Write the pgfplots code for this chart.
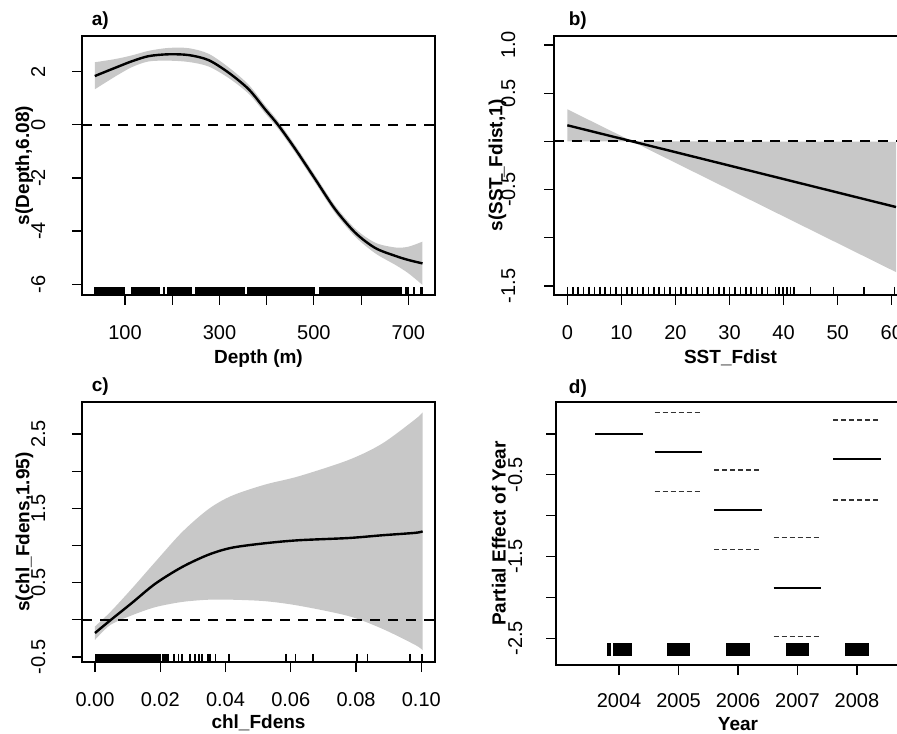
\documentclass[border=0pt]{standalone}
\usepackage{fontspec}
\setmainfont{Liberation Sans}
\usepackage{pgfplots}
\usepackage{pgfplotstable}
\pgfplotsset{compat=1.18}
\usepgfplotslibrary{fillbetween}
\definecolor{band}{RGB}{200,200,200}

% depth smooth: fit and 2se band
\pgfplotstableread{
x     fit    up     lo
36    1.84   2.36   1.34
79    2.15   2.48   1.82
115   2.40   2.62   2.18
150   2.59   2.79   2.39
192   2.66   2.90   2.42
235   2.63   2.89   2.37
277   2.44   2.68   2.20
320   1.96   2.16   1.76
362   1.34   1.51   1.17
397   0.58   0.73   0.43
425   -0.02  0.12   -0.16
461   -0.92  -0.78  -1.06
503   -2.05  -1.91  -2.19
545   -3.18  -3.04  -3.32
588   -4.07  -3.92  -4.22
630   -4.64  -4.44  -4.84
673   -4.94  -4.62  -5.28
700   -5.09  -4.59  -5.59
730   -5.22  -4.40  -6.03
}\depthtab

\pgfplotstableread{
x      fit     up      lo
0      0.167   0.333   0.001
12     0.000   0.000   0.000
60.8   -0.681  -0.004  -1.356
}\ssttab

\pgfplotstableread{
x       fit     up      lo
0.0000  -0.178  -0.09   -0.27
0.0047  -0.007  0.105   -0.07
0.0113  0.226   0.42    0.06
0.0185  0.486   0.78    0.17
0.0267  0.71    1.18    0.24
0.0348  0.876   1.49    0.27
0.0420  0.97    1.67    0.27
0.0522  1.03    1.82    0.25
0.0624  1.07    1.93    0.19
0.0777  1.10    2.15    0.05
0.0880  1.137   2.37    -0.12
0.0982  1.17    2.70    -0.34
0.1004  1.19    2.79    -0.41
}\chltab

\newcommand{\rugblock}[4]{\addplot[fill=black,draw=none,forget plot] coordinates {(#1,#3) (#2,#3) (#2,#4) (#1,#4)};}

\tikzset{panel tag/.style={font=\fontsize{9.5}{11}\selectfont\bfseries, anchor=base west}}

\pgfplotsset{
  rpanel/.style={
    scale only axis,
    axis line style={line width=0.6pt},
    every tick/.style={black, line width=0.6pt},
    tick align=outside,
    major tick length=5pt,
    xtick pos=bottom, ytick pos=left,
    clip mode=individual,
    tick label style={font=\fontsize{10}{11}\selectfont},
  },
  ylab/.style={every axis y label/.style={at={(axis description cs:#1,0.5)}, rotate=90, anchor=center,
    font=\fontsize{9.5}{11}\selectfont\bfseries}},
  xlab/.style={every axis x label/.style={at={(axis description cs:0.5,#1)}, anchor=base,
    font=\fontsize{9.5}{11}\selectfont\bfseries}},
  zeroline/.style={black, line width=1.1pt, dash pattern=on 5pt off 4pt},
  fitline/.style={black, line width=1.2pt},
  rug/.style={only marks, mark=|, mark size=2pt, mark options={line width=0.8pt}, black},
}

\begin{document}
\begin{tikzpicture}

% a) depth
\begin{axis}[rpanel, at={(41pt,219pt)}, anchor=south west,
  width=176.5pt, height=129.5pt,
  xmin=8.9, xmax=756.5, ymin=-6.41, ymax=3.35,
  xtick={100,200,...,700}, xticklabels={100,,300,,500,,700},
  ytick={-6,-4,-2,0,2}, yticklabels={-6,-4,-2,0,2},
  yticklabel style={xshift=-13.5pt, rotate=90, anchor=base},
  xticklabel style={anchor=base, yshift=-17.5pt},
  ylab=-0.164, xlab=-0.265,
  xlabel={Depth (m)}, ylabel={s(Depth,6.08)}]
\addplot[name path=aup, draw=none, smooth] table[x=x,y=up] {\depthtab};
\addplot[name path=alo, draw=none, smooth] table[x=x,y=lo] {\depthtab};
\addplot[band, draw=none] fill between[of=aup and alo];
\addplot[fitline, smooth] table[x=x,y=fit] {\depthtab};
\addplot[zeroline] coordinates {(8.9,0) (756.5,0)};
\rugblock{33.7}{100.6}{-6.41}{-6.11}
\rugblock{113.3}{174.8}{-6.41}{-6.11}
\rugblock{189}{241.9}{-6.41}{-6.11}
\rugblock{249}{354.8}{-6.41}{-6.11}
\rugblock{358.4}{503}{-6.41}{-6.11}
\rugblock{511.5}{686.7}{-6.41}{-6.11}
\rugblock{693.7}{700.9}{-6.41}{-6.11}
\rugblock{709.3}{714.9}{-6.41}{-6.11}
\addplot[rug] coordinates {(183,-6.26) (726,-6.26) (729,-6.26)};
\node[panel tag] at (rel axis cs:0.008,1.04) {a)};
\end{axis}

% b) SST_Fdist
\begin{axis}[rpanel, at={(277pt,219pt)}, anchor=south west,
  width=176.5pt, height=129.5pt,
  xmin=-2.46, xmax=62.82, ymin=-1.593, ymax=1.093,
  xtick={0,10,...,60}, xticklabels={0,10,20,30,40,50,60},
  ytick={-1.5,-1,-0.5,0,0.5,1}, yticklabels={-1.5,,-0.5,,0.5,1.0},
  yticklabel style={xshift=-14.5pt, rotate=90, anchor=base},
  xticklabel style={anchor=base, yshift=-17.5pt},
  ylab=-0.160, xlab=-0.265,
  xlabel={SST\_Fdist}, ylabel={s(SST\_Fdist,1)}]
\addplot[name path=bup, draw=none] table[x=x,y=up] {\ssttab};
\addplot[name path=blo, draw=none] table[x=x,y=lo] {\ssttab};
\addplot[band, draw=none] fill between[of=bup and blo];
\addplot[fitline] table[x=x,y=fit] {\ssttab};
\addplot[zeroline] coordinates {(-2.46,0) (62.82,0)};
\addplot[rug] coordinates {
 (0,-1.5515) (1,-1.5515) (2,-1.5515) (3,-1.5515) (4,-1.5515) (5,-1.5515)
 (6,-1.5515) (7,-1.5515) (8,-1.5515) (9,-1.5515) (10,-1.5515) (11,-1.5515)
 (12,-1.5515) (13,-1.5515) (14,-1.5515) (15,-1.5515) (16,-1.5515) (17,-1.5515)
 (18,-1.5515) (19,-1.5515) (20,-1.5515) (21,-1.5515) (22,-1.5515) (23,-1.5515)
 (24,-1.5515) (25,-1.5515) (26,-1.5515) (27,-1.5515) (28,-1.5515) (29,-1.5515)
 (30,-1.5515) (31,-1.5515) (32,-1.5515) (33,-1.5515) (34,-1.5515) (35,-1.5515)
 (36,-1.5515) (37,-1.5515) (38.5,-1.5515) (39.1,-1.5515) (39.9,-1.5515)
 (40.6,-1.5515) (41.3,-1.5515) (41.9,-1.5515) (45.0,-1.5515) (49.2,-1.5515)
 (54.9,-1.5515) (60.5,-1.5515)};
\node[panel tag] at (rel axis cs:0.022,1.04) {b)};
\end{axis}

% c) chl_Fdens
\begin{axis}[rpanel, at={(41pt,35.5pt)}, anchor=south west,
  width=176.5pt, height=130pt,
  xmin=-0.00398, xmax=0.1042, ymin=-0.568, ymax=2.93,
  xtick={0,0.02,0.04,0.06,0.08,0.1}, xticklabels={0.00,0.02,0.04,0.06,0.08,0.10},
  ytick={-0.5,0,0.5,1,1.5,2,2.5}, yticklabels={-0.5,,0.5,,1.5,,2.5},
  yticklabel style={xshift=-13.5pt, rotate=90, anchor=base},
  xticklabel style={anchor=base, yshift=-17.3pt},
  ylab=-0.163, xlab=-0.254,
  xlabel={chl\_Fdens}, ylabel={s(chl\_Fdens,1.95)}]
\addplot[name path=cup, draw=none, smooth] table[x=x,y=up] {\chltab};
\addplot[name path=clo, draw=none, smooth] table[x=x,y=lo] {\chltab};
\addplot[band, draw=none] fill between[of=cup and clo];
\addplot[fitline, smooth] table[x=x,y=fit] {\chltab};
\addplot[zeroline] coordinates {(-0.00398,0) (0.1042,0)};
\rugblock{0.0000}{0.0195}{-0.568}{-0.460}
\rugblock{0.0206}{0.0228}{-0.568}{-0.460}
\addplot[rug] coordinates {
 (0.0200,-0.514) (0.0242,-0.514) (0.0256,-0.514) (0.0267,-0.514) (0.0292,-0.514)
 (0.0307,-0.514) (0.0318,-0.514) (0.0328,-0.514) (0.0346,-0.514) (0.0353,-0.514)
 (0.0369,-0.514) (0.0410,-0.514) (0.0585,-0.514) (0.0614,-0.514) (0.0668,-0.514)
 (0.0803,-0.514) (0.0835,-0.514) (0.0966,-0.514) (0.1002,-0.514)};
\node[panel tag] at (rel axis cs:0.008,1.04) {c)};
\end{axis}

% d) Year
\begin{axis}[rpanel, at={(278pt,34pt)}, anchor=south west,
  width=182pt, height=131.5pt,
  xmin=2002.94, xmax=2009.06, ymin=-2.827, ymax=0.392,
  xtick={2004,2005,2006,2007,2008}, xticklabels={2004,2005,2006,2007,2008},
  ytick={-2.5,-2,-1.5,-1,-0.5,0}, yticklabels={-2.5,,-1.5,,-0.5,},
  yticklabel style={xshift=-12pt, rotate=90, anchor=base},
  xticklabel style={anchor=base, yshift=-16pt},
  ylab=-0.157, xlab=-0.25,
  xlabel={Year}, ylabel={Partial Effect of Year}]
\addplot[black, line width=1pt] coordinates {(2003.6,0) (2004.4,0)};
\addplot[black, line width=1pt] coordinates {(2004.6,-0.217) (2005.4,-0.217)};
\addplot[black, line width=1pt] coordinates {(2005.6,-0.930) (2006.4,-0.930)};
\addplot[black, line width=1pt] coordinates {(2006.6,-1.881) (2007.4,-1.881)};
\addplot[black, line width=1pt] coordinates {(2007.6,-0.310) (2008.4,-0.310)};
\addplot[black!80, line width=0.6pt, dash pattern=on 2.5pt off 1.5pt] coordinates {(2004.6,0.266) (2005.4,0.266)};
\addplot[black!80, line width=0.6pt, dash pattern=on 2.5pt off 1.5pt] coordinates {(2004.6,-0.706) (2005.4,-0.706)};
\addplot[black!80, line width=0.6pt, dash pattern=on 2.5pt off 1.5pt] coordinates {(2005.6,-0.441) (2006.4,-0.441)};
\addplot[black!80, line width=0.6pt, dash pattern=on 2.5pt off 1.5pt] coordinates {(2005.6,-1.416) (2006.4,-1.416)};
\addplot[black!80, line width=0.6pt, dash pattern=on 2.5pt off 1.5pt] coordinates {(2006.6,-1.269) (2007.4,-1.269)};
\addplot[black!80, line width=0.6pt, dash pattern=on 2.5pt off 1.5pt] coordinates {(2006.6,-2.481) (2007.4,-2.481)};
\addplot[black!80, line width=0.6pt, dash pattern=on 2.5pt off 1.5pt] coordinates {(2007.6,0.171) (2008.4,0.171)};
\addplot[black!80, line width=0.6pt, dash pattern=on 2.5pt off 1.5pt] coordinates {(2007.6,-0.808) (2008.4,-0.808)};
\rugblock{2003.80}{2003.87}{-2.717}{-2.558}
\rugblock{2003.89}{2004.22}{-2.717}{-2.558}
\rugblock{2004.80}{2005.20}{-2.717}{-2.558}
\rugblock{2005.80}{2006.20}{-2.717}{-2.558}
\rugblock{2006.80}{2007.20}{-2.717}{-2.558}
\rugblock{2007.80}{2008.20}{-2.717}{-2.558}
\node[panel tag] at (rel axis cs:0.016,1.033) {d)};
\end{axis}
\pgfresetboundingbox
\useasboundingbox (0,0) rectangle (448.5pt,366.5pt);
\end{tikzpicture}
\end{document}
